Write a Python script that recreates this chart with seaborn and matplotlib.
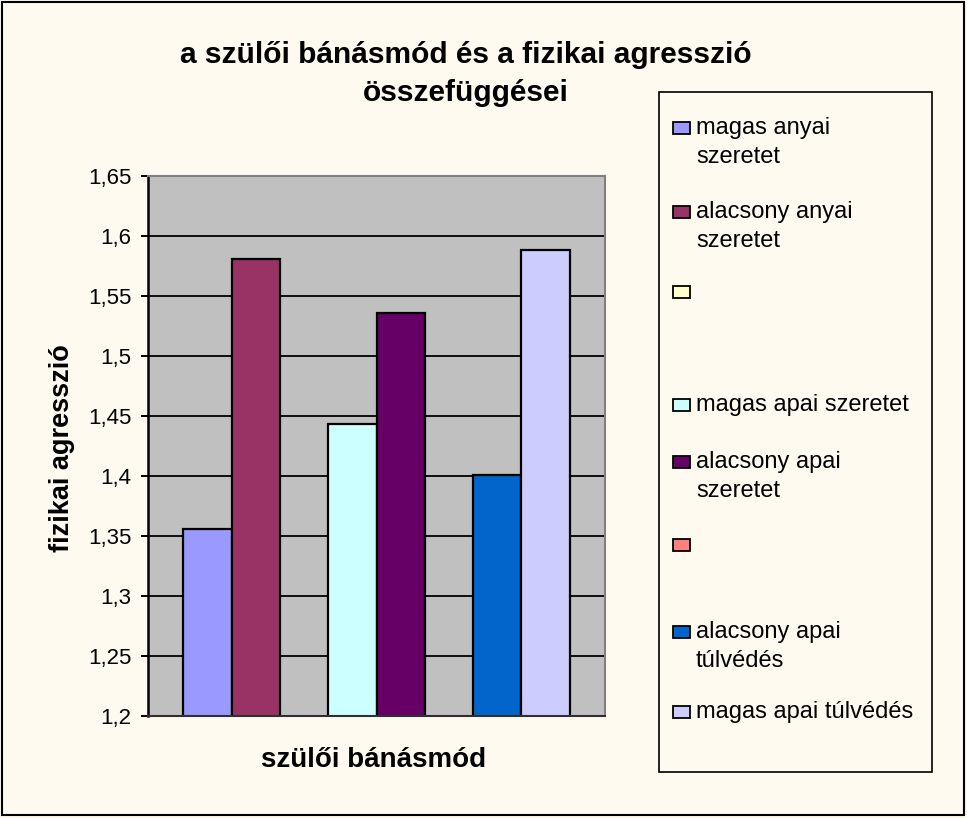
import numpy as np
import pandas as pd
import seaborn as sns
import matplotlib.pyplot as plt
from matplotlib.patches import Rectangle

# adatok (egy kategória, 8 sorozat, kettő üres)
sorozatok = ["magas anyai szeretet", "alacsony anyai szeretet", " ",
             "magas apai szeretet", "alacsony apai szeretet", "  ",
             "alacsony apai túlvédés", "magas apai túlvédés"]
jelmagyarazat = ["magas anyai\nszeretet", "alacsony anyai\nszeretet", "",
                 "magas apai szeretet", "alacsony apai\nszeretet", "",
                 "alacsony apai\ntúlvédés", "magas apai túlvédés"]
ertekek = [1.356, 1.581, np.nan, 1.443, 1.536, np.nan, 1.401, 1.588]
szinek = ["#9999FF", "#993366", "#FFFFCC", "#CCFFFF",
          "#660066", "#FF8080", "#0066CC", "#CCCCFF"]
y_tickek = [1.2, 1.25, 1.3, 1.35, 1.4, 1.45, 1.5, 1.55, 1.6, 1.65]
y_feliratok = ["1,2", "1,25", "1,3", "1,35", "1,4", "1,45", "1,5", "1,55", "1,6", "1,65"]

df = pd.DataFrame({'kategoria': [''] * len(sorozatok), 'sorozat': sorozatok, 'ertek': ertekek})

sns.set_style("white")
plt.rcParams['font.family'] = ['Liberation Sans', 'DejaVu Sans']
plt.rcParams['text.color'] = 'black'
plt.rcParams['ytick.color'] = 'black'

W, H = 967, 818
hatter = '#FFFAF0'
fig = plt.figure(figsize=(W / 100, H / 100), dpi=100, facecolor=hatter)


def fx(x):
    return x / W


def fy(y):
    return 1 - y / H


ax = fig.add_axes([fx(148), fy(716), (605 - 148) / W, (716 - 176) / H])
ax.set_facecolor('#C0C0C0')

sns.barplot(data=df, x='kategoria', y='ertek', hue='sorozat', hue_order=sorozatok,
            palette=dict(zip(sorozatok, szinek)), saturation=1, width=0.845, gap=0,
            edgecolor='black', linewidth=1.6, errorbar=None, legend=False, ax=ax)

ax.set_ylim(1.2, 1.65)
ax.set_xlim(-0.5, 0.5)
ax.set_yticks(y_tickek)
ax.set_yticklabels(y_feliratok, fontsize=16, color='black')
ax.set_xticks([])
ax.set_xlabel('')
ax.set_ylabel('')
ax.tick_params(axis='y', direction='out', length=5, width=1.4, color='black', pad=7, left=True)
ax.yaxis.grid(True, color='black', linewidth=1.3)
ax.set_axisbelow(True)
ax.spines['left'].set_color('black')
ax.spines['left'].set_linewidth(1.8)
ax.spines['bottom'].set_color('#303030')
ax.spines['bottom'].set_linewidth(1.5)
for s in ['top', 'right']:
    ax.spines[s].set_color('#808080')
    ax.spines[s].set_linewidth(1.5)

# címek
fig.text(fx(466), fy(74), 'a szülői bánásmód és a fizikai agresszió\nösszefüggései',
         ha='center', va='center', fontsize=21.5, fontweight='bold', linespacing=1.45,
         color='black')
fig.text(fx(62), fy(448), 'fizikai agresszió', rotation=90, ha='center', va='center',
         fontsize=19.5, fontweight='bold', color='black')
fig.text(fx(374), fy(760), 'szülői bánásmód', ha='center', va='center',
         fontsize=20, fontweight='bold', color='black')

# jelmagyarázat
fig.patches.append(Rectangle((fx(659), fy(772)), (932 - 659) / W, (772 - 92) / H,
                             transform=fig.transFigure, fill=False,
                             edgecolor='black', linewidth=1.2))
sor_y = [128, 212, 292, 405, 462, 545, 632, 712]
for felirat, szin, yy in zip(jelmagyarazat, szinek, sor_y):
    fig.patches.append(Rectangle((fx(673), fy(yy + 6)), 17 / W, 12 / H,
                                 transform=fig.transFigure, facecolor=szin,
                                 edgecolor='black', linewidth=1.3))
    if felirat:
        fig.text(fx(696), fy(yy - 11), felirat, ha='left', va='top',
                 fontsize=17, linespacing=1.42, color='black')

# keret
fig.patches.append(Rectangle((fx(2), fy(815)), 962 / W, 813 / H, transform=fig.transFigure,
                             fill=False, edgecolor='black', linewidth=1.5))

plt.savefig('out.png', dpi=100, facecolor=hatter)
